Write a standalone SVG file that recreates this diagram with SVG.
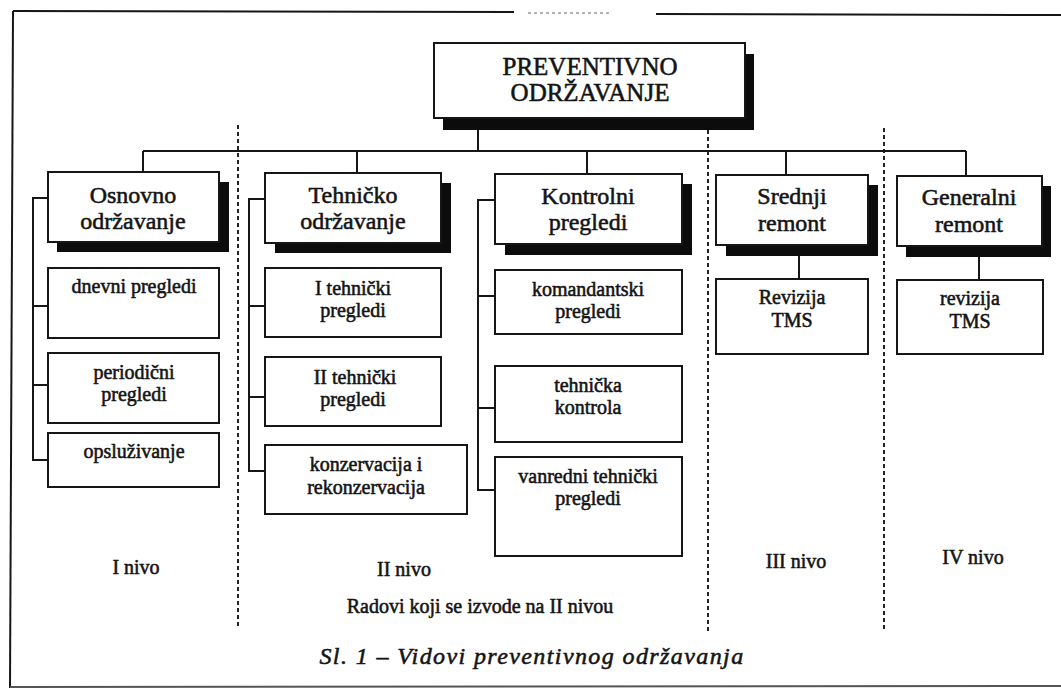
<svg xmlns="http://www.w3.org/2000/svg" width="1061" height="690" viewBox="0 0 1061 690">
<style>
.box{fill:#fff;stroke:#161616;stroke-width:2}
.sh{fill:#0c0c0c}
.ln{stroke:#161616;stroke-width:2;fill:none}
.dash{stroke:#222;stroke-width:2;stroke-dasharray:4 3;fill:none}
text{font-family:"Liberation Serif","Times New Roman",serif;fill:#141414;stroke:#141414;stroke-width:0.55;text-anchor:middle}
.root{font-size:25px}
.hd{font-size:24px}
.sub{font-size:20px}
.lvl{font-size:20px}
.cap{font-size:24px;font-style:italic;letter-spacing:1.4px}
</style>
<rect width="1061" height="690" fill="#fff"/>
<g id="frame">
<path class="ln" d="M13 11 L514 12"/>
<path d="M528 13 L609 13" stroke="#999" stroke-width="1.5" stroke-dasharray="3 3" fill="none"/>
<path class="ln" d="M656 14 L1061 15"/>
<path class="ln" d="M13 11 L10 688"/>
<path d="M10 687 L1061 686" stroke="#555" stroke-width="2" fill="none"/>
</g>
<g id="dividers">
<path class="dash" d="M238 125 V627"/>
<path class="dash" d="M708 130 V632"/>
<path class="dash" d="M884 128 V632"/>
</g>
<g id="connectors">
<path class="ln" d="M478 130 V151 M143 151 H966 M143 151 V172 M357 151 V173 M587 151 V174 M786 151 V175 M966 151 V176"/>
<path class="ln" d="M48 198 H33 V460 H48 M33 306 H48 M33 385 H48"/>
<path class="ln" d="M265 199 H249 V471 H265 M249 306 H265 M249 397 H265"/>
<path class="ln" d="M495 200 H478 V490 H495 M478 296 H495 M478 408 H495"/>
<path class="ln" d="M799 256 V279 M979 257 V280"/>
</g>
<g id="root">
<rect class="sh" x="443" y="54" width="311" height="76"/>
<rect class="box" x="434" y="43" width="311" height="75"/>
<text class="root" x="590" y="75">PREVENTIVNO</text>
<text class="root" x="590" y="101">ODRŽAVANJE</text>
</g>
<g id="osnovno">
<rect class="sh" x="57" y="182" width="172" height="70"/>
<rect class="box" x="48" y="172" width="171" height="70"/>
<text class="hd" x="133" y="203">Osnovno</text>
<text class="hd" x="133" y="229">održavanje</text>
</g>
<g id="dnevni">
<rect class="box" x="48" y="268" width="171" height="70"/>
<text class="sub" x="134" y="293">dnevni pregledi</text>
</g>
<g id="periodicni">
<rect class="box" x="48" y="353" width="171" height="70"/>
<text class="sub" x="134" y="379">periodični</text>
<text class="sub" x="134" y="401">pregledi</text>
</g>
<g id="opsluzivanje">
<rect class="box" x="48" y="433" width="171" height="54"/>
<text class="sub" x="134" y="458">opsluživanje</text>
</g>
<g id="tehnicko">
<rect class="sh" x="275" y="183" width="176" height="70"/>
<rect class="box" x="265" y="173" width="176" height="70"/>
<text class="hd" x="353" y="203">Tehničko</text>
<text class="hd" x="353" y="229">održavanje</text>
</g>
<g id="i-tehnicki">
<rect class="box" x="265" y="268" width="176" height="69"/>
<text class="sub" x="353" y="295">I tehnički</text>
<text class="sub" x="353" y="317">pregledi</text>
</g>
<g id="ii-tehnicki">
<rect class="box" x="265" y="357" width="176" height="69"/>
<text class="sub" x="355" y="384">II tehnički</text>
<text class="sub" x="353" y="406">pregledi</text>
</g>
<g id="konzervacija">
<rect class="box" x="265" y="445" width="202" height="69"/>
<text class="sub" x="366" y="471">konzervacija i</text>
<text class="sub" x="366" y="494">rekonzervacija</text>
</g>
<g id="kontrolni">
<rect class="sh" x="505" y="184" width="187" height="71"/>
<rect class="box" x="495" y="174" width="187" height="70"/>
<text class="hd" x="588" y="204">Kontrolni</text>
<text class="hd" x="588" y="230">pregledi</text>
</g>
<g id="komandantski">
<rect class="box" x="495" y="270" width="187" height="64"/>
<text class="sub" x="588" y="296">komandantski</text>
<text class="sub" x="588" y="318">pregledi</text>
</g>
<g id="tehnicka-kontrola">
<rect class="box" x="495" y="366" width="187" height="76"/>
<text class="sub" x="588" y="392">tehnička</text>
<text class="sub" x="588" y="414">kontrola</text>
</g>
<g id="vanredni">
<rect class="box" x="495" y="457" width="187" height="99"/>
<text class="sub" x="588" y="483">vanredni tehnički</text>
<text class="sub" x="588" y="505">pregledi</text>
</g>
<g id="srednji">
<rect class="sh" x="726" y="185" width="152" height="71"/>
<rect class="box" x="716" y="175" width="152" height="70"/>
<text class="hd" x="792" y="204">Srednji</text>
<text class="hd" x="792" y="231">remont</text>
</g>
<g id="revizija-srednji">
<rect class="box" x="716" y="279" width="152" height="75"/>
<text class="sub" x="792" y="304">Revizija</text>
<text class="sub" x="792" y="327">TMS</text>
</g>
<g id="generalni">
<rect class="sh" x="906" y="186" width="145" height="71"/>
<rect class="box" x="897" y="176" width="145" height="70"/>
<text class="hd" x="969" y="205">Generalni</text>
<text class="hd" x="969" y="232">remont</text>
</g>
<g id="revizija-generalni">
<rect class="box" x="897" y="280" width="146" height="74"/>
<text class="sub" x="970" y="305">revizija</text>
<text class="sub" x="970" y="328">TMS</text>
</g>
<g id="labels">
<text class="lvl" x="136" y="574">I nivo</text>
<text class="lvl" x="404" y="576">II nivo</text>
<text class="lvl" x="796" y="568">III nivo</text>
<text class="lvl" x="973" y="564">IV nivo</text>
<text class="lvl" x="480" y="613">Radovi koji se izvode na II nivou</text>
<text class="cap" x="532" y="664">Sl. 1 – Vidovi preventivnog održavanja</text>
</g>
</svg>
